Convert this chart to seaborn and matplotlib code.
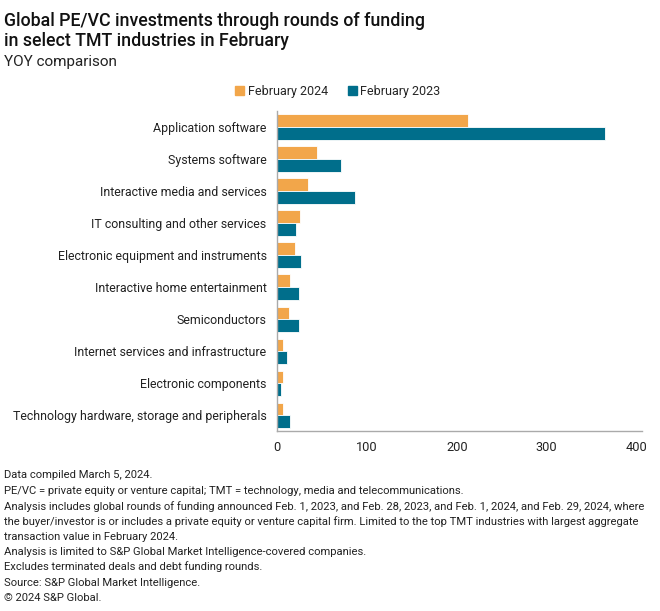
import pandas as pd
import matplotlib
matplotlib.use('Agg')
import matplotlib.pyplot as plt
import seaborn as sns
from matplotlib.patches import Patch

industries = [
    'Application software', 'Systems software', 'Interactive media and services',
    'IT consulting and other services', 'Electronic equipment and instruments',
    'Interactive home entertainment', 'Semiconductors',
    'Internet services and infrastructure', 'Electronic components',
    'Technology hardware, storage and peripherals'
]
feb_2024 = [212, 45, 34, 26, 20, 15, 13, 7, 7, 7]
feb_2023 = [365, 71, 87, 21, 27, 25, 25, 11, 4, 15]
periods = ['February 2024', 'February 2023']
colors = ['#F2A64A', '#006E8B']

df = pd.DataFrame({
    'industry': industries * 2,
    'period': [periods[0]] * len(industries) + [periods[1]] * len(industries),
    'value': feb_2024 + feb_2023,
})

sns.set_style('white')
plt.rcParams['font.family'] = ['Roboto', 'DejaVu Sans']

fig = plt.figure(figsize=(6.6, 6.11), dpi=100)
ax = fig.add_axes([0.4197, 0.2938, 0.553, 0.5245])

sns.barplot(data=df, y='industry', x='value', hue='period', order=industries,
            hue_order=periods, palette=colors, saturation=1, width=0.8, ax=ax,
            edgecolor='white', linewidth=0.6, legend=False)

ax.set_xlim(0, 406)
ax.set_xticks([0, 100, 200, 300, 400])
ax.set_xlabel('')
ax.set_ylabel('')
ax.tick_params(axis='both', length=0, colors='#222222')
ax.tick_params(axis='y', pad=7.5, labelsize=8.9)
ax.tick_params(axis='x', pad=7, labelsize=9.2)
for side in ['top', 'right']:
    ax.spines[side].set_visible(False)
for side in ['left', 'bottom']:
    ax.spines[side].set_color('#aaaaaa')
    ax.spines[side].set_linewidth(1)

handles = [Patch(color=c, label=p) for c, p in zip(colors, periods)]
fig.legend(handles=handles, loc='center', bbox_to_anchor=(0.512, 0.851), ncol=2,
           frameon=False, fontsize=9, handlelength=0.7, handleheight=0.7,
           handletextpad=0.3, columnspacing=1.6)

fig.text(0.006, 0.981, 'Global PE/VC investments through rounds of funding\nin select TMT industries in February',
         fontsize=12.8, fontweight='medium', va='top', ha='left', color='#111111', linespacing=1.15)
fig.text(0.006, 0.898, 'YOY comparison', fontsize=11, va='center', ha='left', color='#222222')

note_lines = [
    (475, 'Data compiled March 5, 2024.'),
    (491, 'PE/VC = private equity or venture capital; TMT = technology, media and telecommunications.'),
    (507, 'Analysis includes global rounds of funding announced Feb. 1, 2023, and Feb. 28, 2023, and Feb. 1, 2024, and Feb. 29, 2024, where'),
    (522, 'the buyer/investor is or includes a private equity or venture capital firm. Limited to the top TMT industries with largest aggregate'),
    (537, 'transaction value in February 2024.'),
    (552, 'Analysis is limited to S&P Global Market Intelligence-covered companies.'),
    (567, 'Excludes terminated deals and debt funding rounds.'),
    (583, 'Source: S&P Global Market Intelligence.'),
    (598, '\u00a9 2024 S&P Global.'),
]
for ypix, t in note_lines:
    fig.text(0.006, 1 - ypix / 611, t, fontsize=8.1, va='center', ha='left', color='#222222')

fig.savefig('out.png', dpi=100)
